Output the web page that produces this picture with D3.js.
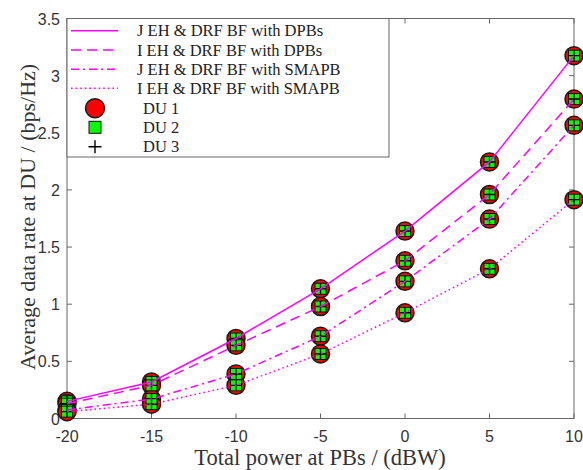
<!DOCTYPE html>
<html>
<head>
<meta charset="utf-8">
<script src="https://cdn.jsdelivr.net/npm/d3@7"></script>
<style>
  html, body { margin: 0; padding: 0; background: #fff; }
  svg { display: block; }
</style>
</head>
<body>
<svg id="chart" width="583" height="470"></svg>
<script>
// Total power at the power beacons (dBW)
const powerDBW = [-20, -15, -10, -5, 0, 5, 10];

// Average data rate at the DUs (bps/Hz) for each scheme
const jointDPB   = [0.15, 0.32, 0.70, 1.135, 1.64, 2.245, 3.175];
const indepDPB   = [0.13, 0.29, 0.64, 0.98, 1.38, 1.96, 2.795];
const jointSMAPB = [0.075, 0.17, 0.39, 0.72, 1.20, 1.745, 2.565];
const indepSMAPB = [0.06, 0.125, 0.29, 0.565, 0.925, 1.31, 1.915];

const seriesNames = [
  "J EH & DRF BF with DPBs",
  "I EH & DRF BF with DPBs",
  "J EH & DRF BF with SMAPB",
  "I EH & DRF BF with SMAPB"
];
const duNames = ["DU 1", "DU 2", "DU 3"];

const xTicks = [-20, -15, -10, -5, 0, 5, 10];
const yTicks = [0, 0.5, 1, 1.5, 2, 2.5, 3, 3.5];

const seriesValues = [jointDPB, indepDPB, jointSMAPB, indepSMAPB];
const dashes = [null, "10,6", "8,4,2,4", "1.6,3"];

const svg = d3.select("#chart");
const pLeft = 67, pRight = 574, pTop = 18.5, pBottom = 418.5;

const x = d3.scaleLinear().domain([-20, 10]).range([pLeft, pRight]);
const y = d3.scaleLinear().domain([0, 3.5]).range([pBottom, pTop]);

const axisColor = "#666";
const textColor = "#333";
const magenta = "#ff00ff";

// Frame with inward ticks on all four sides
const axes = svg.append("g").attr("stroke", axisColor).attr("stroke-width", 1).attr("fill", "none");
axes.append("rect")
  .attr("x", pLeft).attr("y", pTop)
  .attr("width", pRight - pLeft).attr("height", pBottom - pTop);

xTicks.forEach(t => {
  axes.append("line").attr("x1", x(t)).attr("x2", x(t)).attr("y1", pBottom).attr("y2", pBottom - 5);
  axes.append("line").attr("x1", x(t)).attr("x2", x(t)).attr("y1", pTop).attr("y2", pTop + 5);
});
yTicks.forEach(t => {
  axes.append("line").attr("x1", pLeft).attr("x2", pLeft + 5).attr("y1", y(t)).attr("y2", y(t));
  axes.append("line").attr("x1", pRight).attr("x2", pRight - 5).attr("y1", y(t)).attr("y2", y(t));
});

// Tick labels
const tickFont = "'Liberation Sans', Arial, sans-serif";
svg.append("g").selectAll("text").data(xTicks).join("text")
  .attr("x", d => x(d)).attr("y", 442)
  .attr("text-anchor", "middle")
  .attr("font-family", tickFont).attr("font-size", 16)
  .attr("fill", textColor)
  .text(d => d);

svg.append("g").selectAll("text").data(yTicks).join("text")
  .attr("x", 60).attr("y", d => y(d) + 6)
  .attr("text-anchor", "end")
  .attr("font-family", tickFont).attr("font-size", 16)
  .attr("fill", textColor)
  .text(d => d);

// Axis titles
const serif = "'Liberation Serif', 'Times New Roman', serif";
svg.append("text")
  .attr("x", 320).attr("y", 465)
  .attr("text-anchor", "middle")
  .attr("font-family", serif).attr("font-size", 22.5)
  .attr("fill", textColor)
  .text("Total power at PBs / (dBW)");

svg.append("text")
  .attr("transform", `translate(35, 217) rotate(-90)`)
  .attr("text-anchor", "middle")
  .attr("font-family", serif).attr("font-size", 22)
  .attr("fill", textColor)
  .text("Average data rate at DU / (bps/Hz)");

// DU markers: red circle, green square, black plus
function drawCircle(g, cx, cy, r) {
  g.append("circle").attr("cx", cx).attr("cy", cy).attr("r", r)
    .attr("fill", "#ff0000").attr("stroke", "#1a1a1a").attr("stroke-width", 1.5);
}
function drawSquare(g, cx, cy, s) {
  g.append("rect").attr("x", cx - s / 2).attr("y", cy - s / 2)
    .attr("width", s).attr("height", s)
    .attr("fill", "#00ff00").attr("stroke", "#111").attr("stroke-width", 1);
}
function drawPlus(g, cx, cy, s) {
  g.append("path")
    .attr("d", `M${cx - s / 2},${cy}H${cx + s / 2}M${cx},${cy - s / 2}V${cy + s / 2}`)
    .attr("stroke", "#000").attr("stroke-width", 1.4).attr("fill", "none");
}

const markers = svg.append("g");
seriesValues.forEach(vals => {
  vals.forEach((v, i) => {
    drawCircle(markers, x(powerDBW[i]), y(v), 9);
  });
});
seriesValues.forEach(vals => {
  vals.forEach((v, i) => {
    drawSquare(markers, x(powerDBW[i]), y(v), 11);
    drawPlus(markers, x(powerDBW[i]), y(v), 11);
  });
});

// Curves
const line = d3.line().x((d, i) => x(powerDBW[i])).y(d => y(d));
seriesValues.forEach((vals, k) => {
  svg.append("path")
    .datum(vals)
    .attr("d", line)
    .attr("fill", "none")
    .attr("stroke", magenta)
    .attr("stroke-width", 1.5)
    .attr("stroke-dasharray", dashes[k]);
});

// Legend
const lg = svg.append("g");
lg.append("rect")
  .attr("x", pLeft).attr("y", pTop)
  .attr("width", 389 - pLeft).attr("height", 157 - pTop)
  .attr("fill", "#fff").attr("stroke", axisColor).attr("stroke-width", 1);

const rowY = [30.7, 50, 69.3, 88.3, 108.3, 127.3, 146.7];
seriesNames.forEach((name, k) => {
  lg.append("line")
    .attr("x1", 71).attr("x2", 118)
    .attr("y1", rowY[k]).attr("y2", rowY[k])
    .attr("stroke", magenta).attr("stroke-width", 1.5)
    .attr("stroke-dasharray", dashes[k]);
  lg.append("text")
    .attr("x", 137).attr("y", rowY[k] + 5.5)
    .attr("font-family", serif).attr("font-size", 16.5)
    .attr("fill", "#222")
    .text(name);
});
drawCircle(lg, 95, rowY[4], 9.5);
drawSquare(lg, 95, rowY[5], 12);
drawPlus(lg, 95, rowY[6], 13);
duNames.forEach((name, j) => {
  lg.append("text")
    .attr("x", 143).attr("y", rowY[4 + j] + 5.5)
    .attr("font-family", serif).attr("font-size", 16.5)
    .attr("fill", "#222")
    .text(name);
});
</script>
</body>
</html>
